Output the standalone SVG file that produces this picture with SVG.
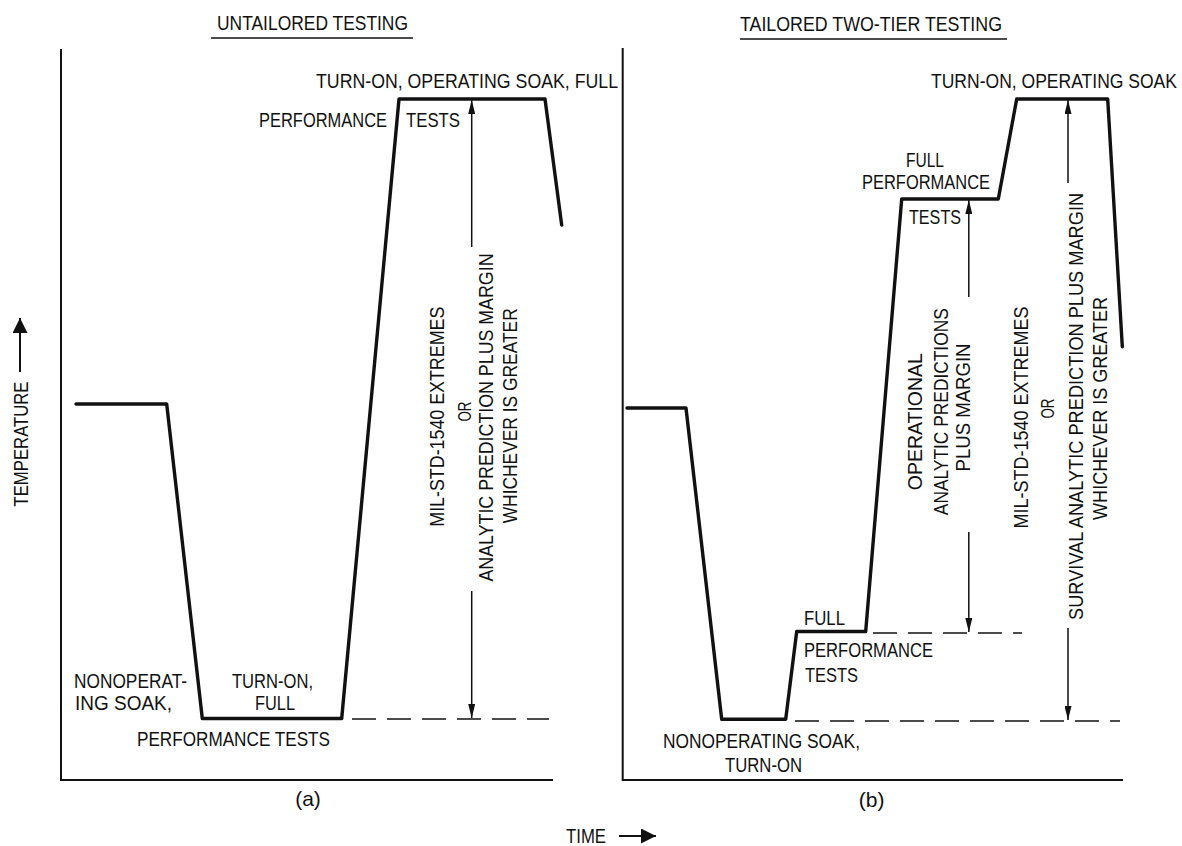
<svg xmlns="http://www.w3.org/2000/svg" width="1182" height="846" viewBox="0 0 1182 846">
<style>
  text { font-family: "Liberation Sans", Arial, sans-serif; font-size: 21px; fill: #111; }
  .small { font-size: 19px; }
  .axis { stroke: #111; stroke-width: 2; fill: none; }
  .curve { stroke: #111; stroke-width: 3.4; fill: none; stroke-linejoin: round; stroke-linecap: round; }
  .dash { stroke: #111; stroke-width: 1.4; fill: none; stroke-dasharray: 24 11; }
  .dim { stroke: #111; stroke-width: 1.5; fill: none; marker-end: url(#ah); }
  .ul { stroke: #111; stroke-width: 1.6; }
</style>
<defs>
  <marker id="ah" markerUnits="userSpaceOnUse" viewBox="0 0 14 7" refX="14" refY="3.5" markerWidth="14" markerHeight="7" orient="auto">
    <path d="M0,0 L14,3.5 L0,7 z" fill="#111"/>
  </marker>
  <marker id="bigah" markerUnits="userSpaceOnUse" viewBox="0 0 15 15" refX="15" refY="7.5" markerWidth="15" markerHeight="15" orient="auto">
    <path d="M0,0 L15,7.5 L0,15 z" fill="#111"/>
  </marker>
</defs>
<rect width="1182" height="846" fill="#fff"/>

<g id="axis-labels">
  <g id="temperature-label">
    <text transform="translate(27.5,444) rotate(-90)" text-anchor="middle" textLength="125" lengthAdjust="spacingAndGlyphs">TEMPERATURE</text>
    <line x1="20" y1="372" x2="20" y2="318" stroke="#111" stroke-width="2" marker-end="url(#bigah)"/>
  </g>
  <g id="time-label">
    <text x="566" y="843" textLength="40" lengthAdjust="spacingAndGlyphs">TIME</text>
    <line x1="619" y1="836" x2="656" y2="836" stroke="#111" stroke-width="2" marker-end="url(#bigah)"/>
  </g>
</g>

<g id="panel-a">
  <g id="title-a">
    <text x="217" y="30" textLength="191" lengthAdjust="spacingAndGlyphs">UNTAILORED TESTING</text>
    <line class="ul" x1="211" y1="38" x2="413" y2="38"/>
  </g>
  <path id="axes-a" class="axis" d="M61,49 L61,780 L553,780"/>
  <g id="label-a-top">
    <text x="316" y="88" textLength="302" lengthAdjust="spacingAndGlyphs">TURN-ON, OPERATING SOAK, FULL</text>
    <text x="259" y="127" textLength="128" lengthAdjust="spacingAndGlyphs">PERFORMANCE</text>
    <text x="406" y="127" textLength="54" lengthAdjust="spacingAndGlyphs">TESTS</text>
  </g>
  <g id="label-a-bottom">
    <text x="74" y="688" textLength="113" lengthAdjust="spacingAndGlyphs">NONOPERAT-</text>
    <text x="75" y="710" textLength="97" lengthAdjust="spacingAndGlyphs">ING SOAK,</text>
    <text x="232" y="688" textLength="81" lengthAdjust="spacingAndGlyphs">TURN-ON,</text>
    <text x="255" y="710" textLength="40" lengthAdjust="spacingAndGlyphs">FULL</text>
    <text x="137" y="746" textLength="193" lengthAdjust="spacingAndGlyphs">PERFORMANCE TESTS</text>
  </g>
  <g id="label-a-range">
    <text transform="translate(443.5,416.7) rotate(-90)" text-anchor="middle" textLength="220" lengthAdjust="spacingAndGlyphs">MIL-STD-1540 EXTREMES</text>
    <text class="small" transform="translate(470.5,411.5) rotate(-90)" text-anchor="middle" textLength="20" lengthAdjust="spacingAndGlyphs">OR</text>
    <text transform="translate(493,417.5) rotate(-90)" text-anchor="middle" textLength="328" lengthAdjust="spacingAndGlyphs">ANALYTIC PREDICTION PLUS MARGIN</text>
    <text transform="translate(517,415.8) rotate(-90)" text-anchor="middle" textLength="215" lengthAdjust="spacingAndGlyphs">WHICHEVER IS GREATER</text>
  </g>
  <text id="caption-a" x="308" y="806" text-anchor="middle">(a)</text>
</g>

<g id="panel-b">
  <g id="title-b">
    <text x="740" y="30.5" textLength="262" lengthAdjust="spacingAndGlyphs">TAILORED TWO-TIER TESTING</text>
    <line class="ul" x1="740" y1="39" x2="1007" y2="39"/>
  </g>
  <path id="axes-b" class="axis" d="M622.7,48 L622.7,780 L1123,780"/>
  <g id="label-b-top">
    <text x="931" y="88" textLength="246" lengthAdjust="spacingAndGlyphs">TURN-ON, OPERATING SOAK</text>
  </g>
  <g id="label-b-mid">
    <text x="906" y="167" textLength="38" lengthAdjust="spacingAndGlyphs">FULL</text>
    <text x="862" y="189" textLength="128" lengthAdjust="spacingAndGlyphs">PERFORMANCE</text>
    <text x="909" y="224" textLength="52" lengthAdjust="spacingAndGlyphs">TESTS</text>
  </g>
  <g id="label-b-low">
    <text x="804" y="625" textLength="41" lengthAdjust="spacingAndGlyphs">FULL</text>
    <text x="804" y="657" textLength="129" lengthAdjust="spacingAndGlyphs">PERFORMANCE</text>
    <text x="805" y="682" textLength="53" lengthAdjust="spacingAndGlyphs">TESTS</text>
  </g>
  <g id="label-b-bottom">
    <text x="663" y="748" textLength="197" lengthAdjust="spacingAndGlyphs">NONOPERATING SOAK,</text>
    <text x="725" y="772" textLength="77" lengthAdjust="spacingAndGlyphs">TURN-ON</text>
  </g>
  <g id="label-b-operational">
    <text transform="translate(921.5,421.7) rotate(-90)" text-anchor="middle" textLength="137" lengthAdjust="spacingAndGlyphs">OPERATIONAL</text>
    <text transform="translate(948,411.7) rotate(-90)" text-anchor="middle" textLength="207" lengthAdjust="spacingAndGlyphs">ANALYTIC PREDICTIONS</text>
    <text transform="translate(969.5,407.5) rotate(-90)" text-anchor="middle" textLength="128" lengthAdjust="spacingAndGlyphs">PLUS MARGIN</text>
  </g>
  <g id="label-b-survival">
    <text transform="translate(1028,417.5) rotate(-90)" text-anchor="middle" textLength="222" lengthAdjust="spacingAndGlyphs">MIL-STD-1540 EXTREMES</text>
    <text class="small" transform="translate(1054,408.5) rotate(-90)" text-anchor="middle" textLength="20" lengthAdjust="spacingAndGlyphs">OR</text>
    <text transform="translate(1083,406.4) rotate(-90)" text-anchor="middle" textLength="427" lengthAdjust="spacingAndGlyphs">SURVIVAL ANALYTIC PREDICTION PLUS MARGIN</text>
    <text transform="translate(1107,408.4) rotate(-90)" text-anchor="middle" textLength="223" lengthAdjust="spacingAndGlyphs">WHICHEVER IS GREATER</text>
  </g>
  <text id="caption-b" x="871.7" y="807" text-anchor="middle">(b)</text>
</g>

<g id="connectors">
  <path class="curve" d="M76,404 L166.7,404 L202.3,718.5 L341.7,718.5 L399,99 L545,99 L561.7,225"/>
  <path class="curve" d="M627,408 L686,408 L721.7,719.3 L785.7,719.3 L796.7,631.5 L865.7,631.5 L901.7,199 L998.3,199 L1016.7,99 L1107.7,99 L1122.3,346.7"/>
  <line class="dash" x1="352" y1="719" x2="549" y2="719"/>
  <line class="dash" x1="873" y1="633" x2="1022" y2="633"/>
  <line class="dash" x1="795" y1="721" x2="1120" y2="721"/>
  <line class="dim" x1="471.7" y1="247" x2="471.7" y2="100"/>
  <line class="dim" x1="471.7" y1="591" x2="471.7" y2="718"/>
  <line class="dim" x1="968.8" y1="297" x2="968.8" y2="200"/>
  <line class="dim" x1="968.8" y1="532" x2="968.8" y2="632"/>
  <line class="dim" x1="1068" y1="183" x2="1068" y2="100"/>
  <line class="dim" x1="1068" y1="628" x2="1068" y2="720"/>
</g>
</svg>
